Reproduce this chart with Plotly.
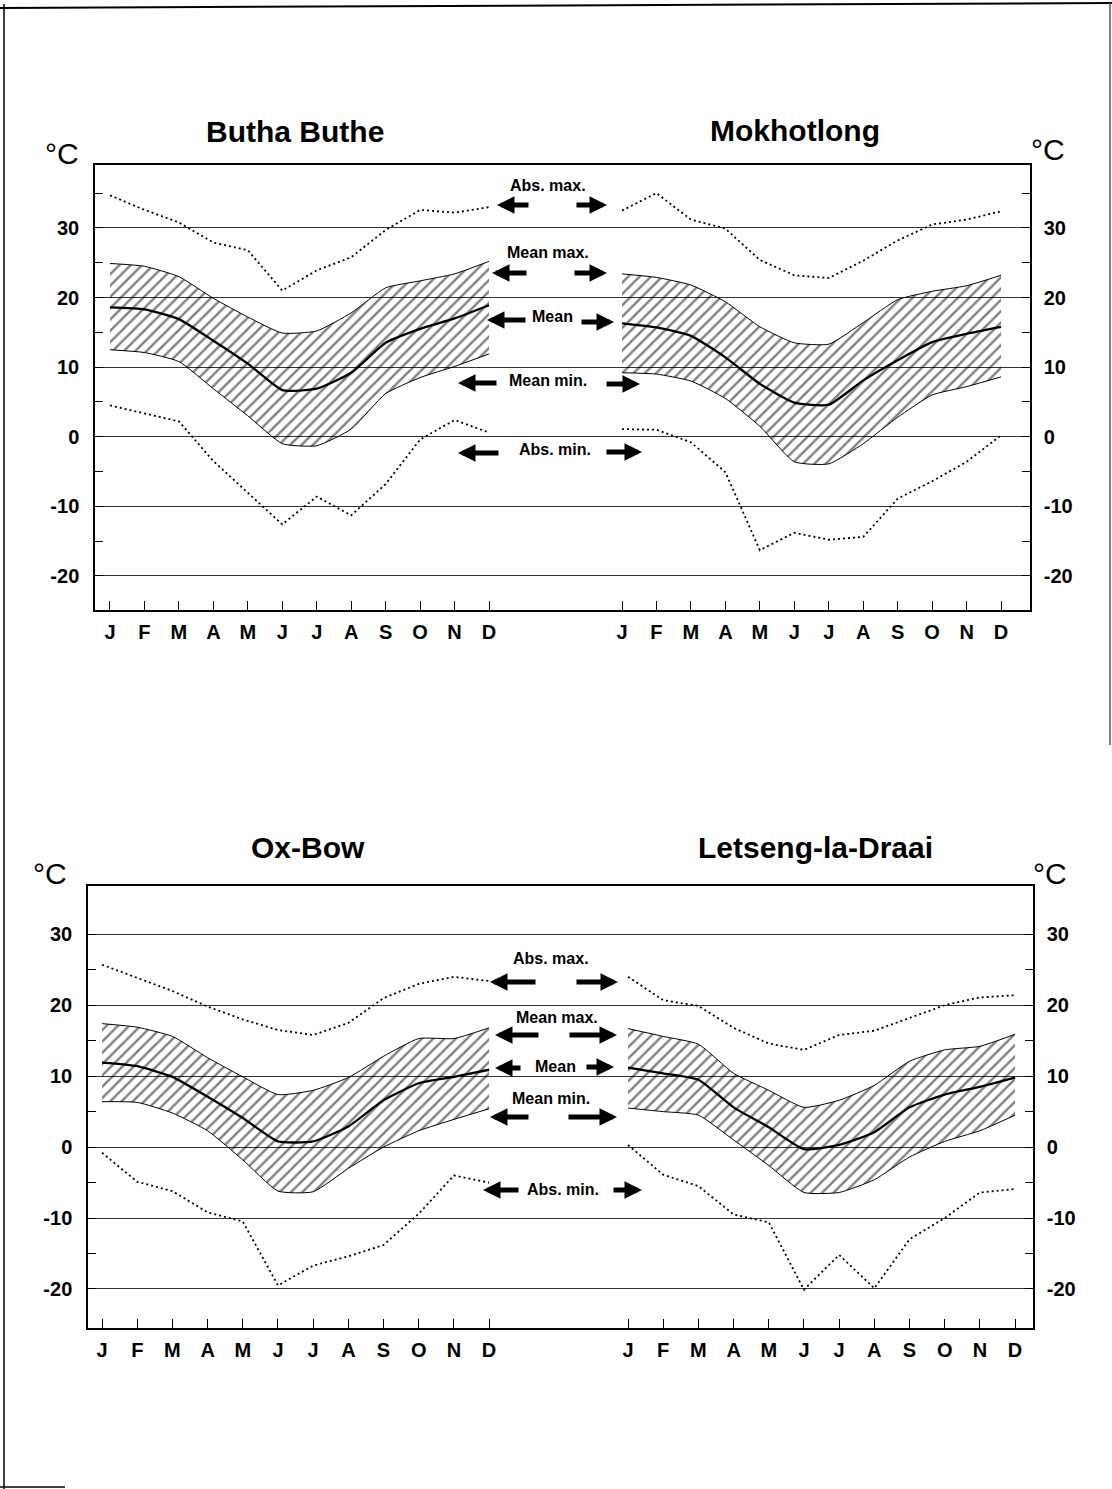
import plotly.graph_objects as go

# ---------------- data ----------------
months = ["J", "F", "M", "A", "M", "J", "J", "A", "S", "O", "N", "D"]
legend_labels = ["Abs. max.", "Mean max.", "Mean", "Mean min.", "Abs. min."]
y_tick_vals = [-20, -10, 0, 10, 20, 30]
y_tick_text = ["-20", "-10", "0", "10", "20", "30"]

# Butha Buthe
butha_abs_max = [34.7, 32.6, 30.8, 27.9, 26.8, 21.0, 23.9, 25.8, 29.7, 32.6, 32.2, 33.0]
butha_mean_max = [24.9, 24.5, 23.0, 19.9, 17.2, 14.9, 15.2, 17.8, 21.4, 22.4, 23.4, 25.2]
butha_mean = [18.6, 18.3, 16.9, 13.8, 10.5, 6.7, 6.9, 9.2, 13.5, 15.5, 17.0, 18.9]
butha_mean_min = [12.5, 12.1, 10.8, 6.9, 3.0, -1.0, -1.3, 1.1, 6.2, 8.5, 10.1, 11.9]
butha_abs_min = [4.5, 3.4, 2.2, -3.5, -8.0, -12.6, -8.6, -11.3, -6.8, -0.4, 2.4, 0.6]

# Mokhotlong
mokh_abs_max = [32.5, 35.0, 31.2, 29.9, 25.4, 23.2, 22.8, 25.3, 28.2, 30.5, 31.2, 32.4]
mokh_mean_max = [23.4, 22.9, 21.8, 19.4, 15.8, 13.5, 13.3, 16.4, 19.7, 20.9, 21.7, 23.2]
mokh_mean = [16.3, 15.7, 14.5, 11.4, 7.6, 4.9, 4.6, 8.1, 11.0, 13.6, 14.8, 15.8]
mokh_mean_min = [9.2, 9.0, 8.0, 5.5, 1.5, -3.6, -3.9, -1.0, 2.8, 6.0, 7.2, 8.6]
mokh_abs_min = [1.1, 1.0, -0.8, -5.1, -16.3, -13.8, -14.8, -14.4, -8.9, -6.4, -3.6, 0.2]

# Ox-Bow
oxbow_abs_max = [25.7, 23.9, 22.0, 19.8, 18.0, 16.5, 15.8, 17.5, 21.0, 23.0, 24.0, 23.4]
oxbow_mean_max = [17.4, 16.9, 15.6, 12.6, 9.9, 7.4, 8.0, 9.8, 12.8, 15.3, 15.3, 16.8]
oxbow_mean = [11.9, 11.4, 9.9, 7.1, 4.1, 0.8, 0.8, 2.9, 6.6, 9.0, 9.9, 10.9]
oxbow_mean_min = [6.4, 6.3, 4.8, 2.3, -1.8, -6.2, -6.3, -3.0, 0.0, 2.3, 3.9, 5.4]
oxbow_abs_min = [-0.8, -4.9, -6.2, -9.2, -10.5, -19.5, -16.7, -15.4, -13.8, -9.4, -4.0, -5.0]

# Letseng-la-Draai
lets_abs_max = [24.0, 20.7, 19.9, 16.8, 14.6, 13.7, 15.8, 16.4, 18.2, 20.0, 21.1, 21.4]
lets_mean_max = [16.7, 15.6, 14.5, 10.4, 8.0, 5.6, 6.6, 8.7, 12.1, 13.7, 14.2, 15.9]
lets_mean = [11.2, 10.4, 9.5, 5.6, 2.8, -0.3, 0.3, 2.1, 5.6, 7.4, 8.5, 9.8]
lets_mean_min = [5.5, 5.0, 4.5, 1.0, -2.6, -6.4, -6.4, -4.6, -1.4, 0.8, 2.3, 4.5]
lets_abs_min = [0.3, -3.9, -5.5, -9.5, -10.6, -20.1, -15.2, -19.9, -13.0, -10.0, -6.4, -5.9]

station_names = ["Butha Buthe", "Mokhotlong", "Ox-Bow", "Letseng-la-Draai"]

# ---------------- layout helpers ----------------
W, H = 1112, 1489
FONT = "Liberation Sans"


def px(x):
    return x / W


def py(y):
    return 1 - y / H


fig = go.Figure()

panels = [
    dict(xa="x", ya="y", yr="y3",
         xdom=(95, 1030), ydom=(165, 610),
         xrange=(-0.435, 26.7), yrange=(-24.9, 39.05),
         minor=[-15, -5, 5, 15, 25, 35],
         offset=14.86,
         stations=[
             (butha_abs_max, butha_mean_max, butha_mean, butha_mean_min, butha_abs_min),
             (mokh_abs_max, mokh_mean_max, mokh_mean, mokh_mean_min, mokh_abs_min)]),
    dict(xa="x2", ya="y2", yr="y4",
         xdom=(88, 1033), ydom=(886, 1328),
         xrange=(-0.4, 26.46), yrange=(-25.5, 36.8),
         minor=[-15, -5, 5, 15, 25],
         offset=14.95,
         stations=[
             (oxbow_abs_max, oxbow_mean_max, oxbow_mean, oxbow_mean_min, oxbow_abs_min),
             (lets_abs_max, lets_mean_max, lets_mean, lets_mean_min, lets_abs_min)]),
]

band_line = dict(color="black", width=1, shape="spline", smoothing=0.5)
mean_line = dict(color="black", width=2.3, shape="spline", smoothing=0.5)
dot_line = dict(color="black", width=1.8, dash="2px,3px")

for p in panels:
    tickvals = []
    for k, (amax, mmax, mean, mmin, amin) in enumerate(p["stations"]):
        off = p["offset"] * k
        xs = [i + off for i in range(len(months))]
        tickvals += xs
        common = dict(xaxis=p["xa"], yaxis=p["ya"], showlegend=False,
                      hoverinfo="skip", mode="lines")
        fig.add_trace(go.Scatter(x=xs, y=mmin, line=band_line, **common))
        fig.add_trace(go.Scatter(
            x=xs, y=mmax, line=band_line, fill="tonexty",
            fillcolor="rgba(255,255,255,0)",
            fillpattern=dict(shape="/", fgcolor="black", size=8, solidity=0.3),
            **common))
        fig.add_trace(go.Scatter(x=xs, y=mean, line=mean_line, **common))
        fig.add_trace(go.Scatter(x=xs, y=amax, line=dot_line, **common))
        fig.add_trace(go.Scatter(x=xs, y=amin, line=dot_line, **common))
    # dummy for right axis
    fig.add_trace(go.Scatter(x=[None], y=[None], xaxis=p["xa"], yaxis=p["yr"],
                             showlegend=False, hoverinfo="skip"))
    p["tickvals"] = tickvals

tick_font = dict(family=FONT, size=20, color="black", weight="bold")


def xaxis_cfg(p):
    return dict(domain=[px(p["xdom"][0]), px(p["xdom"][1])], range=list(p["xrange"]),
                anchor=p["ya"], tickvals=p["tickvals"], ticktext=months * 2,
                ticks="inside", ticklen=9, tickwidth=1.2, tickcolor="black",
                showline=True, mirror=True, linecolor="black", linewidth=1.5,
                showgrid=False, zeroline=False, tickfont=tick_font,
                ticklabelstandoff=3, fixedrange=True)


def yaxis_cfg(p, side):
    d = dict(range=list(p["yrange"]), tickvals=y_tick_vals, ticktext=y_tick_text,
             ticks="inside", ticklen=8, tickwidth=1.2, tickcolor="black",
             minor=dict(tickvals=p["minor"], ticks="inside", ticklen=8,
                        tickwidth=1.2, tickcolor="black", showgrid=False),
             showline=True, linecolor="black", linewidth=1.5, zeroline=False,
             tickfont=tick_font, fixedrange=True)
    if side == "left":
        d.update(domain=[py(p["ydom"][1]), py(p["ydom"][0])], anchor=p["xa"],
                 showgrid=True, gridcolor="#333333", gridwidth=1.1,
                 ticklabelstandoff=10)
    else:
        d.update(overlaying=p["ya"], side="right", anchor=p["xa"], showgrid=False,
                 ticklabelstandoff=8)
    return d


fig.update_layout(
    width=W, height=H, margin=dict(l=0, r=0, t=0, b=0),
    paper_bgcolor="white", plot_bgcolor="white",
    xaxis=xaxis_cfg(panels[0]), xaxis2=xaxis_cfg(panels[1]),
    yaxis=yaxis_cfg(panels[0], "left"), yaxis3=yaxis_cfg(panels[0], "right"),
    yaxis2=yaxis_cfg(panels[1], "left"), yaxis4=yaxis_cfg(panels[1], "right"),
)

annotations = []
title_font = dict(family=FONT, size=30, color="black", weight="bold")
deg_font = dict(family=FONT, size=30, color="black")
for name, (cx, cy) in zip(station_names, [(295, 132), (795, 131), (308, 848), (815, 848)]):
    annotations.append(dict(text=name, x=px(cx), y=py(cy), xref="paper", yref="paper",
                            showarrow=False, font=title_font, xanchor="center", yanchor="middle"))
for (cx, cy) in [(62, 153), (1048, 150), (50, 873), (1050, 873)]:
    annotations.append(dict(text="°C", x=px(cx), y=py(cy), xref="paper", yref="paper",
                            showarrow=False, font=deg_font, xanchor="center", yanchor="middle"))

leg_font = dict(family=FONT, size=16, color="black", weight="bold")
legend_layout = [
    # (text center, left arrow head/tail/y, right arrow tail/head/y)
    [((548, 186), (497, 530, 205), (575, 607, 205)),
     ((548, 252), (492, 528, 273), (573, 607, 273)),
     ((552, 316), (487, 527, 320), (580, 614, 322)),
     ((548, 381), (458, 498, 383), (605, 640, 384)),
     ((555, 449), (458, 500, 453), (605, 642, 452))],
    [((551, 959), (490, 537, 982), (575, 618, 982)),
     ((557, 1017), (495, 540, 1035), (568, 617, 1035)),
     ((555, 1066), (495, 522, 1068), (585, 614, 1067)),
     ((551, 1098), (490, 530, 1117), (567, 617, 1117)),
     ((563, 1189), (483, 520, 1190), (612, 642, 1190))],
]
for panel_leg in legend_layout:
    for label, (tc, la, ra) in zip(legend_labels, panel_leg):
        annotations.append(dict(text=label, x=px(tc[0]), y=py(tc[1]), xref="paper",
                                yref="paper", showarrow=False, font=leg_font,
                                xanchor="center", yanchor="middle"))
        head, tail, yy = la
        annotations.append(dict(text="", x=px(head), y=py(yy), xref="paper", yref="paper",
                                ax=tail - head, ay=0, axref="pixel", ayref="pixel",
                                showarrow=True, arrowhead=2, arrowsize=0.7,
                                arrowwidth=5, arrowcolor="black"))
        tail, head, yy = ra
        annotations.append(dict(text="", x=px(head), y=py(yy), xref="paper", yref="paper",
                                ax=tail - head, ay=0, axref="pixel", ayref="pixel",
                                showarrow=True, arrowhead=2, arrowsize=0.7,
                                arrowwidth=5, arrowcolor="black"))

fig.update_layout(annotations=annotations)

# page border (scan frame)
shapes = [
    dict(type="line", xref="paper", yref="paper", x0=0, y0=py(8), x1=1, y1=py(3),
         line=dict(color="black", width=2)),
    dict(type="line", xref="paper", yref="paper", x0=px(4), y0=py(4), x1=px(4), y1=0,
         line=dict(color="black", width=1.5)),
    dict(type="line", xref="paper", yref="paper", x0=px(1110), y0=py(3), x1=px(1110),
         y1=py(745), line=dict(color="#555555", width=1.5)),
    dict(type="line", xref="paper", yref="paper", x0=0, y0=py(1487), x1=px(65),
         y1=py(1487), line=dict(color="black", width=1.5)),
]
fig.update_layout(shapes=shapes)

fig.write_html("out.html", config={"displayModeBar": False},
               post_script="document.body.style.margin='0';document.body.style.overflow='hidden';")
